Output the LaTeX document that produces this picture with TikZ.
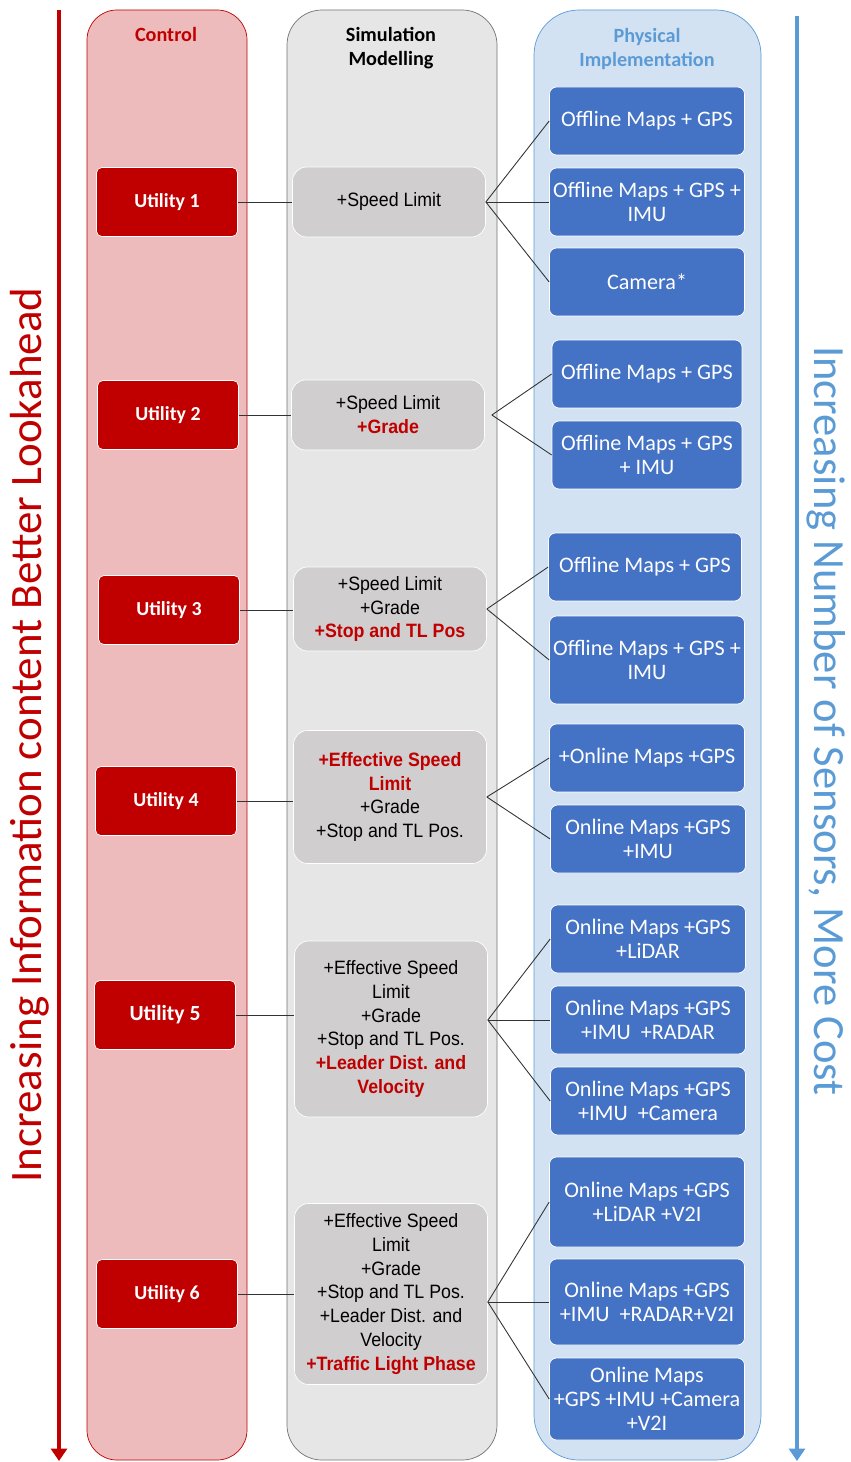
\documentclass[tikz,border=0pt]{standalone}
\usepackage{fontspec}
\setmainfont{Carlito}
\newfontfamily\simfont[FakeStretch=0.92]{Liberation Sans}
\usetikzlibrary{arrows.meta}
\definecolor{ured}{HTML}{C00000}
\definecolor{redcol}{HTML}{EDBBBB}
\definecolor{graycol}{HTML}{E6E6E6}
\definecolor{simgray}{HTML}{D0CECE}
\definecolor{bluecol}{HTML}{D3E2F3}
\definecolor{pblue}{HTML}{4472C4}
\definecolor{lblue}{HTML}{5B9BD5}
\newcommand{\newpart}[1]{{\bfseries\color{ured}#1}}

\begin{document}
\begin{tikzpicture}[x=0.02cm,y=-0.02cm,
  util/.style={draw=white, fill=ured, text=white, rounded corners=3pt,
    minimum width=2.82cm, minimum height=1.38cm, inner sep=0pt,
    font=\bfseries\fontsize{11.3}{13}\selectfont},
  simbox/.style={draw=white, fill=simgray, rounded corners=8pt, align=center,
    minimum width=3.86cm, inner sep=0pt, font=\simfont\fontsize{11}{13.6}\selectfont},
  physbox/.style={draw=white, fill=pblue, text=white, rounded corners=4pt, align=center,
    minimum width=3.9cm, minimum height=1.36cm, inner sep=0pt,
    font=\fontsize{12.6}{13.6}\selectfont},
  link/.style={draw=black!80, line width=0.5pt},
  head/.style={font=\bfseries\fontsize{11.5}{13.6}\selectfont, align=center}]
\useasboundingbox (0,0) rectangle (850,1462);

% the three columns
\draw[fill=redcol, draw=ured, rounded corners=0.6cm] (87,10) rectangle (247,1460);
\draw[fill=graycol, draw=black!55, rounded corners=0.7cm] (287,10) rectangle (497,1460);
\draw[fill=bluecol, draw=lblue, rounded corners=0.9cm] (534,10) rectangle (761,1460);
\node[head, text=ured] (control) at (166,34) {Control};
\node[head] (simulation) at (391,48) {Simulation\\Modelling};
\node[head, text=lblue] (physical) at (647,49) {Physical\\Implementation};

% side arrows
\coordinate (redtop) at (59,10);
\coordinate (redend) at (59,1461);
\coordinate (bluetop) at (797,16);
\coordinate (blueend) at (797,1461);
\draw[ured, line width=2pt, -{Triangle[width=9pt,length=7pt]}] (redtop) -- (redend);
\draw[lblue, line width=2pt, -{Triangle[width=9pt,length=7pt]}] (bluetop) -- (blueend);
\node[rotate=90, text=ured, font=\fontsize{25.6}{30}\selectfont] (lookahead) at (30,735)
  {Increasing Information content Better Lookahead};
\node[rotate=-90, text=lblue, font=\fontsize{25.4}{30}\selectfont] (cost) at (826,721)
  {Increasing Number of Sensors, More Cost};

% control
\node[util] (u1) at (167,202) {Utility 1};
\node[util] (u2) at (168,415) {Utility 2};
\node[util] (u3) at (169,610) {Utility 3};
\node[util] (u4) at (166,801) {Utility 4};
\node[util, font=\bfseries\fontsize{12.3}{14}\selectfont] (u5) at (165,1015) {Utility 5};
\node[util] (u6) at (167,1294) {Utility 6};

% simulation modelling
\node[simbox, minimum height=1.4cm] (s1) at (389,202) {+Speed Limit};
\node[simbox, minimum height=1.4cm] (s2) at (388,415) {+Speed Limit\\\newpart{+Grade}};
\node[simbox, minimum height=1.68cm] (s3) at (390,609) {+Speed Limit\\+Grade\\\newpart{+Stop and TL Pos}};
\node[simbox, minimum height=2.66cm] (s4) at (390,797)
  {\newpart{+Effective Speed}\\\newpart{Limit}\\+Grade\\+Stop and TL Pos.};
\node[simbox, minimum height=3.52cm] (s5) at (391,1029)
  {+Effective Speed\\Limit\\+Grade\\+Stop and TL Pos.\\\newpart{+Leader Dist. and}\\\newpart{Velocity}};
\node[simbox, minimum height=3.62cm] (s6) at (391,1294)
  {+Effective Speed\\Limit\\+Grade\\+Stop and TL Pos.\\+Leader Dist. and\\Velocity\\\newpart{+Traffic Light Phase}};

% physical implementation
\node[physbox] (p1a) at (647,121) {Offline Maps + GPS};
\node[physbox] (p1b) at (647,202) {Offline Maps + GPS +\\IMU};
\node[physbox] (p1c) at (647,282) {Camera*};
\node[physbox, minimum width=3.8cm] (p2a) at (647,374) {Offline Maps + GPS};
\node[physbox, minimum width=3.8cm] (p2b) at (647,455) {Offline Maps + GPS\\+ IMU};
\node[physbox, minimum width=3.86cm] (p3a) at (645,567) {Offline Maps + GPS};
\node[physbox, minimum height=1.76cm] (p3b) at (647,660) {Offline Maps + GPS +\\IMU};
\node[physbox] (p4a) at (647,758) {+Online Maps +GPS};
\node[physbox] (p4b) at (648,839) {Online Maps +GPS\\+IMU};
\node[physbox] (p5a) at (648,939) {Online Maps +GPS\\+LiDAR};
\node[physbox] (p5b) at (648,1020) {Online Maps +GPS\\+IMU \ +RADAR};
\node[physbox] (p5c) at (648,1101) {Online Maps +GPS\\+IMU \ +Camera};
\node[physbox, minimum height=1.8cm] (p6a) at (647,1202) {Online Maps +GPS\\+LiDAR +V2I};
\node[physbox, minimum height=1.72cm] (p6b) at (647,1302) {Online Maps +GPS\\+IMU \ +RADAR+V2I};
\node[physbox, minimum height=1.64cm] (p6c) at (647,1399) {Online Maps\\+GPS +IMU +Camera\\+V2I};

% links
\foreach \i in {1,...,6}
  \draw[link] (u\i.east) -- (u\i.east -| s\i.west);
\foreach \p in {p1a,p1b,p1c}
  \draw[link] (s1.east) -- (\p.west);
\foreach \p in {p2a,p2b}
  \draw[link] ([xshift=4pt]s2.east) -- (\p.west);
\foreach \p in {p3a,p3b}
  \draw[link] (s3.east) -- (\p.west);
\foreach \p in {p4a,p4b}
  \draw[link] (s4.east) -- (\p.west);
\foreach \p in {p5a,p5b,p5c}
  \draw[link] (s5.east |- p5b.west) -- (\p.west);
\foreach \p in {p6a,p6b,p6c}
  \draw[link] (s6.east |- p6b.west) -- (\p.west);
\end{tikzpicture}
\end{document}
